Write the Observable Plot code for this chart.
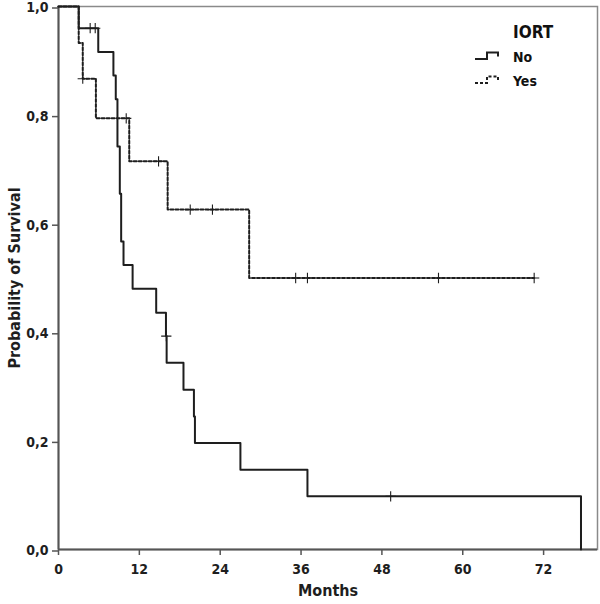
<!DOCTYPE html>
<html>
<head>
<meta charset="utf-8">
<script src="https://cdn.jsdelivr.net/npm/d3@7"></script>
<script src="https://cdn.jsdelivr.net/npm/@observablehq/plot@0.6"></script>
<style>
  html, body { margin: 0; padding: 0; background: #fff; }
  #wrap { position: relative; width: 600px; height: 604px; }
  #legend { position: absolute; left: 474px; top: 22px; font-family: "DejaVu Sans Condensed", "Liberation Sans", sans-serif; font-weight: bold; color: #111; }
  #legend .title { position: absolute; left: 39px; top: 0px; font-size: 17px; }
  #legend .row { position: absolute; left: 0; width: 120px; height: 20px; font-size: 14px; }
  #legend .row svg { position: absolute; left: 0; top: 0; }
  #legend .row span { position: absolute; left: 39px; top: 1px; }
</style>
</head>
<body>
<div id="wrap"><div id="chart"></div><div id="legend"></div></div>
<script>
// ---- data ----
const groups = ["No", "Yes"];
const legendTitle = "IORT";

// IORT = No (solid)
const noMonths   = [0, 3.0, 5.9, 8.15, 8.5, 8.75, 9.1, 9.3, 9.65, 11.0, 14.5, 15.95, 16.05, 18.55, 20.1, 20.25, 27.0, 36.95, 77.55];
const noSurvival = [1, 0.96, 0.916, 0.873, 0.829, 0.742, 0.655, 0.567, 0.524, 0.480, 0.436, 0.393, 0.344, 0.294, 0.245, 0.196, 0.147, 0.098, 0];
const noCensorMonths   = [4.7, 5.45, 16.0, 49.3];
const noCensorSurvival = [0.96, 0.96, 0.393, 0.098];

// IORT = Yes (dashed)
const yesMonths   = [0, 3.0, 3.6, 5.55, 10.5, 16.2, 28.3, 70.6];
const yesSurvival = [1, 0.933, 0.867, 0.794, 0.715, 0.626, 0.5, 0.5];
const yesCensorMonths   = [3.6, 10.05, 14.85, 19.55, 22.85, 35.2, 36.95, 56.4, 70.6];
const yesCensorSurvival = [0.867, 0.794, 0.715, 0.626, 0.626, 0.5, 0.5, 0.5, 0.5];

const xTicks = [0, 12, 24, 36, 48, 60, 72];
const yTicks = [0, 0.2, 0.4, 0.6, 0.8, 1.0];
const xLabel = "Months";
const yLabel = "Probability of Survival";

// ---- build tables ----
const noLine = noMonths.map((m, i) => ({month: m, surv: noSurvival[i]}));
const yesLine = yesMonths.map((m, i) => ({month: m, surv: yesSurvival[i]}));
const noCens = noCensorMonths.map((m, i) => ({month: m, surv: noCensorSurvival[i]}));
const yesCens = yesCensorMonths.map((m, i) => ({month: m, surv: yesCensorSurvival[i]}));

const FONT = '"DejaVu Sans Condensed", "Liberation Sans", sans-serif';
const INK = "#1e1e1e";

const chart = Plot.plot({
  width: 600,
  height: 604,
  marginLeft: 58,
  marginRight: 3,
  marginTop: 6,
  marginBottom: 55,
  style: {fontFamily: FONT, background: "#fff", color: INK},
  x: {domain: [0, 80]},
  y: {domain: [0, 1]},
  marks: [
    Plot.frame({stroke: "#8a8a8a", strokeWidth: 1.5}),
    Plot.axisX(xTicks, {tickSize: 6, tickPadding: 9, fontSize: 14, fontWeight: "bold", stroke: "#555", strokeWidth: 1.5, label: null}),
    Plot.axisY(yTicks, {tickSize: 6, tickPadding: 4, fontSize: 14, fontWeight: "bold", stroke: "#555", strokeWidth: 1.5, label: null,
      dy: 1.5, tickFormat: d => d.toFixed(1).replace(".", ",")}),
    Plot.ruleX([0], {stroke: "#555", strokeWidth: 2}),
    Plot.ruleY([0], {stroke: "#555", strokeWidth: 2}),
    Plot.line(yesLine, {x: "month", y: "surv", curve: "step-after", stroke: INK, strokeWidth: 2, strokeDasharray: "3,2"}),
    Plot.line(noLine, {x: "month", y: "surv", curve: "step-after", stroke: INK, strokeWidth: 2}),
    Plot.dot(yesCens, {x: "month", y: "surv", symbol: "plus", r: 3.4, stroke: INK, strokeWidth: 1.1}),
    Plot.dot(noCens, {x: "month", y: "surv", symbol: "plus", r: 3.4, stroke: INK, strokeWidth: 1.1}),
    Plot.text([xLabel], {frameAnchor: "bottom", dy: 46, fontSize: 16, fontWeight: "bold", fill: INK}),
    Plot.text([yLabel], {frameAnchor: "left", textAnchor: "middle", dx: -44, rotate: -90, fontSize: 16, fontWeight: "bold", fill: INK})
  ]
});
document.getElementById("chart").appendChild(chart);

// ---- legend (inside the plot area, top right) ----
const legend = document.getElementById("legend");
legend.innerHTML = `<div class="title">${legendTitle}</div>`;
const dashes = {No: null, Yes: "3,2"};
groups.forEach((g, i) => {
  const row = document.createElement("div");
  row.className = "row";
  row.style.top = (26 + i * 24) + "px";
  row.innerHTML = `<svg width="30" height="20"><path d="M1,11 H13 V4.5 H24 V8.5" fill="none" stroke="${INK}" stroke-width="2" ${dashes[g] ? `stroke-dasharray="${dashes[g]}"` : ""}/></svg><span>${g}</span>`;
  legend.appendChild(row);
});
</script>
</body>
</html>
